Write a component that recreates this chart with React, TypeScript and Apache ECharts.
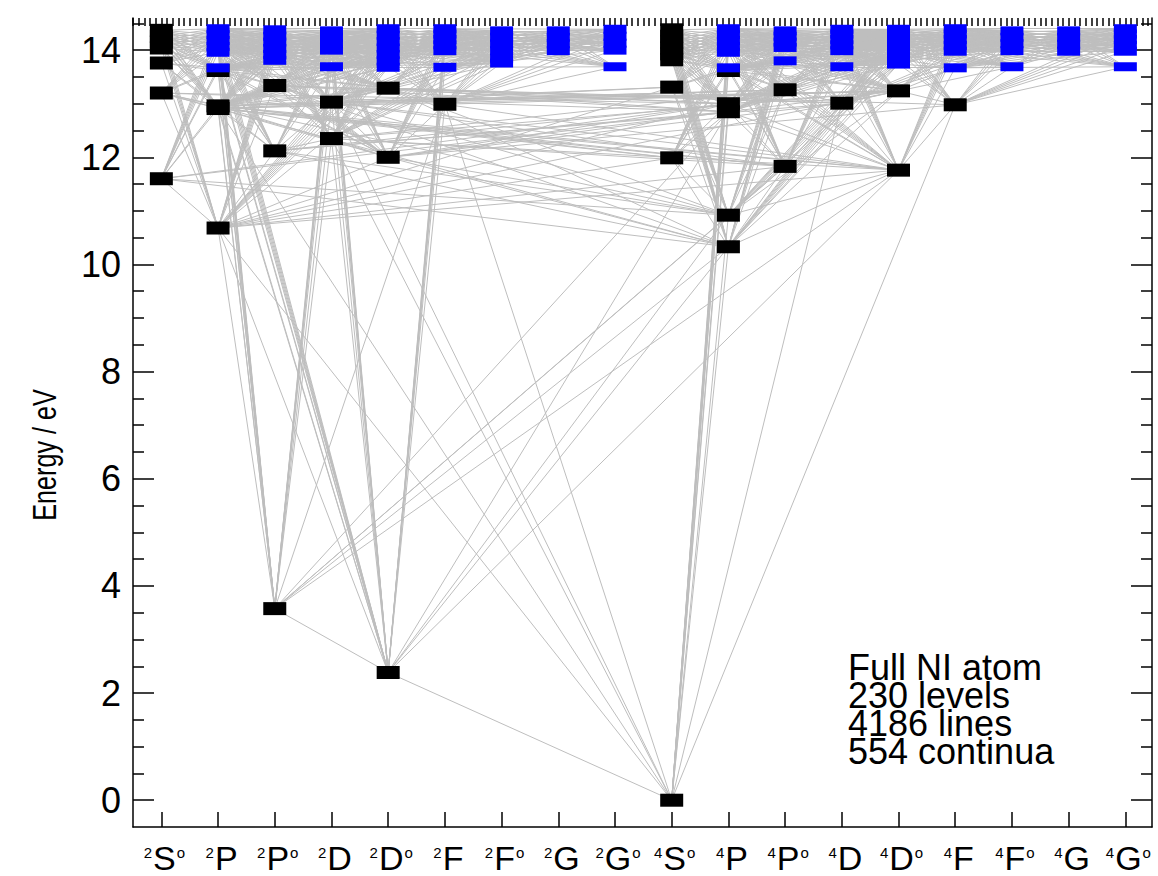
import { useEffect, useRef } from 'react';
import * as echarts from 'echarts';

const FONT = '"Liberation Sans", Arial, Helvetica, sans-serif';

// Spectroscopic terms along the x axis (° marks odd parity)
const TERMS = ['2S°', '2P', '2P°', '2D', '2D°', '2F', '2F°', '2G', '2G°',
  '4S°', '4P', '4P°', '4D', '4D°', '4F', '4F°', '4G', '4G°'];

// Individually treated levels (eV), one list per term
const LEVELS_BLACK: number[][] = [
  [11.60, 13.20, 13.76, 14.04, 14.15, 14.26, 14.37],             // 2S°
  [10.68, 12.91, 12.96, 13.62],                                   // 2P
  [3.576, 12.12, 13.34],                                          // 2P°
  [12.35, 13.03],                                                 // 2D
  [2.384, 12.00, 13.29],                                          // 2D°
  [12.99],                                                        // 2F
  [], [], [],                                                     // 2F°, 2G, 2G°
  [0, 11.99, 13.31, 13.82, 13.93, 14.04, 14.15, 14.26, 14.38],    // 4S°
  [10.33, 10.92, 12.85, 13.00, 13.62],                            // 4P
  [11.83, 13.26],                                                 // 4P°
  [13.01],                                                        // 4D
  [11.76, 13.24],                                                 // 4D°
  [12.98],                                                        // 4F
  [], [], [],                                                     // 4F°, 4G, 4G°
];

// Upper levels shown in blue (eV)
const LEVELS_BLUE: number[][] = [
  [],                                                             // 2S°
  [13.67, 13.96, 14.07, 14.18, 14.29, 14.40],                     // 2P
  [13.81, 13.92, 14.03, 14.15, 14.26, 14.38],                     // 2P°
  [13.69, 14.00, 14.12, 14.24, 14.36],                            // 2D
  [13.68, 13.80, 13.92, 14.04, 14.16, 14.28, 14.40],              // 2D°
  [13.68, 13.99, 14.10, 14.20, 14.30, 14.40],                     // 2F
  [13.76, 13.85, 13.99, 14.12, 14.24, 14.36],                     // 2F°
  [13.99, 14.12, 14.24, 14.36],                                   // 2G
  [13.69, 14.00, 14.13, 14.26, 14.39],                            // 2G°
  [],                                                             // 4S°
  [13.67, 13.96, 14.07, 14.18, 14.29, 14.40],                     // 4P
  [13.80, 14.05, 14.15, 14.26, 14.36],                            // 4P°
  [13.69, 13.99, 14.10, 14.20, 14.30, 14.39],                     // 4D
  [13.74, 13.83, 13.99, 14.10, 14.20, 14.30, 14.39],              // 4D°
  [13.67, 13.98, 14.09, 14.20, 14.30, 14.40],                     // 4F
  [13.69, 13.99, 14.12, 14.24, 14.36],                            // 4F°
  [13.98, 14.11, 14.24, 14.36],                                   // 4G
  [13.69, 13.98, 14.09, 14.20, 14.30, 14.40],                     // 4G°
];

// Additional transitions from the ground and metastable levels: [term, eV, term, eV]
const EXTRA_LINES: [string, number, string, number][] = [
  ['4S°', 0, '2D°', 2.384],
  ['2D°', 2.384, '2P°', 3.576],
  ['4S°', 0, '2P', 10.68],
  ['4S°', 0, '2P', 12.91],
  ['4S°', 0, '2D', 12.35],
  ['4S°', 0, '2D', 13.03],
  ['4S°', 0, '2F', 12.99],
  ['4S°', 0, '4D', 13.01],
  ['4S°', 0, '4F', 12.98],
  ['2D°', 2.384, '4P', 10.33],
  ['2D°', 2.384, '4P', 10.92],
  ['2D°', 2.384, '4P', 12.85],
  ['2D°', 2.384, '4D°', 11.76],
  ['2P°', 3.576, '4P', 10.33],
  ['2P°', 3.576, '4P', 10.92],
  ['2P°', 3.576, '4P', 12.85],
  ['2P°', 3.576, '4D°', 11.76],
  ['2P°', 3.576, '4P°', 11.83],
  ['2P°', 3.576, '2F', 12.99],
];

const ENERGY_TICKS = [0, 2, 4, 6, 8, 10, 12, 14];
const ENERGY_MINOR = [0.5, 1, 1.5, 2.5, 3, 3.5, 4.5, 5, 5.5, 6.5, 7, 7.5, 8.5, 9, 9.5,
  10.5, 11, 11.5, 12.5, 13, 13.5, 14.5];
const NOTE_LINES = ['Full NI atom', '230 levels', '4186 lines', '554 continua'];

type Level = { t: number; e: number; black: boolean };

const termInfo = TERMS.map((s) => ({
  mult: Number(s[0]),
  L: 'SPDFG'.indexOf(s[1]),
  odd: s.endsWith('°'),
}));

const allLevels: Level[] = [];
TERMS.forEach((_, t) => {
  LEVELS_BLACK[t].forEach((e) => allLevels.push({ t, e, black: true }));
  LEVELS_BLUE[t].forEach((e) => allLevels.push({ t, e, black: false }));
});

// Electric-dipole selection rules; spin-changing lines kept among the
// individually treated levels of the 10–13.4 eV band
function linked(a: Level, b: Level): boolean {
  const A = termInfo[a.t];
  const B = termInfo[b.t];
  if (A.odd === B.odd) return false;
  if (Math.abs(A.L - B.L) > 1) return false;
  if (A.L === 0 && B.L === 0) return false;
  if (A.mult === B.mult) return true;
  return a.black && b.black && a.e >= 10 && b.e >= 10 && a.e <= 13.4 && b.e <= 13.4;
}

function buildLines() {
  const out: { coords: number[][] }[] = [];
  for (let i = 0; i < allLevels.length; i++) {
    for (let j = i + 1; j < allLevels.length; j++) {
      const a = allLevels[i];
      const b = allLevels[j];
      if (linked(a, b)) out.push({ coords: [[a.t, a.e], [b.t, b.e]] });
    }
  }
  EXTRA_LINES.forEach(([ta, ea, tb, eb]) => {
    out.push({ coords: [[TERMS.indexOf(ta), ea], [TERMS.indexOf(tb), eb]] });
  });
  return out;
}

function boxes(src: number[][]) {
  const pts: number[][] = [];
  src.forEach((list, t) => list.forEach((e) => pts.push([t, e])));
  // lower boxes drawn last
  pts.sort((p, q) => q[1] - p[1]);
  return pts;
}

function termLabel(v: number) {
  const s = TERMS[Math.round(v)];
  if (!s) return '';
  return `{sup|${s[0]}}{main|${s[1]}}${s.endsWith('°') ? '{sup|o}' : ''}`;
}

const X_MIN = -0.5;
const X_MAX = 17.47;
const Y_MIN = -0.5;
const Y_MAX = 14.6;
const TERM_TICKS = TERMS.map((_, i) => i);
const TOP_TICKS = Array.from({ length: 180 }, (_, i) => Math.round((X_MIN + i * 0.1) * 10) / 10);

export default function App() {
  const ref = useRef<HTMLDivElement>(null);

  useEffect(() => {
    if (!ref.current) return;
    const chart = echarts.init(ref.current, undefined, { renderer: 'svg' });
    const axisLine = { show: true, onZero: false, lineStyle: { color: '#000', width: 1.5 } };
    const noLine = { show: false, onZero: false };
    const tickStyle = { color: '#000', width: 1.5 };
    const yBase = { type: 'value', min: Y_MIN, max: Y_MAX, splitLine: { show: false } } as any;

    chart.setOption({
      animation: false,
      backgroundColor: '#fff',
      grid: { left: 133, right: 6, top: 18, bottom: 49, containLabel: false, outerBoundsMode: 'none' },
      xAxis: [
        {
          type: 'value', min: X_MIN, max: X_MAX, position: 'bottom',
          splitLine: { show: false }, axisLine,
          axisTick: { show: true, inside: true, length: 15, customValues: TERM_TICKS, lineStyle: tickStyle },
          axisLabel: {
            show: true, customValues: TERM_TICKS, margin: 18, formatter: termLabel,
            padding: [0, 0, 0, 6],
            rich: {
              main: { fontSize: 34, fontFamily: FONT, color: '#000', lineHeight: 26 },
              sup: { fontSize: 15, fontFamily: FONT, color: '#000', lineHeight: 11, verticalAlign: 'top', padding: [0, 1, 0, 1] },
            },
          },
        },
        {
          type: 'value', min: X_MIN, max: X_MAX, position: 'top',
          splitLine: { show: false }, axisLine: noLine,
          axisTick: { show: true, inside: true, length: 8, customValues: TOP_TICKS, lineStyle: tickStyle },
          axisLabel: { show: false },
        },
      ],
      yAxis: [
        {
          ...yBase, position: 'left', axisLine,
          axisTick: { show: true, inside: true, length: 21, customValues: ENERGY_TICKS, lineStyle: tickStyle },
          axisLabel: { show: true, customValues: ENERGY_TICKS, fontSize: 36, fontFamily: FONT, color: '#000', margin: 12 },
        },
        {
          ...yBase, position: 'left', offset: 0, axisLine: noLine,
          axisTick: { show: true, inside: true, length: 11, customValues: ENERGY_MINOR, lineStyle: tickStyle },
          axisLabel: { show: false },
        },
        {
          ...yBase, position: 'right', offset: 0, axisLine,
          axisTick: { show: true, inside: true, length: 21, customValues: ENERGY_TICKS, lineStyle: tickStyle },
          axisLabel: { show: false },
        },
        {
          ...yBase, position: 'right', offset: 0, axisLine: noLine,
          axisTick: { show: true, inside: true, length: 11, customValues: ENERGY_MINOR, lineStyle: tickStyle },
          axisLabel: { show: false },
        },
      ],
      series: [
        {
          type: 'lines', coordinateSystem: 'cartesian2d', xAxisIndex: 0, yAxisIndex: 0,
          silent: true, polyline: false, z: 1, largeThreshold: 100000,
          lineStyle: { color: '#bebebe', width: 1, opacity: 1 },
          data: buildLines(),
        },
        {
          type: 'scatter', xAxisIndex: 0, yAxisIndex: 0, silent: true, z: 3,
          symbol: 'rect', symbolSize: [23, 13],
          itemStyle: { color: '#000', opacity: 1 },
          data: boxes(LEVELS_BLACK),
        },
        {
          type: 'scatter', xAxisIndex: 0, yAxisIndex: 0, silent: true, z: 4,
          symbol: 'rect', symbolSize: [23, 9],
          itemStyle: { color: '#0000ff', opacity: 1 },
          data: boxes(LEVELS_BLUE),
        },
      ],
      graphic: [
        {
          type: 'text', x: 44, y: 455, rotation: Math.PI / 2, scaleX: 0.74, z: 10,
          style: { text: 'Energy / eV', fontSize: 34, fontFamily: FONT, fill: '#000', align: 'center', verticalAlign: 'middle' },
        },
        {
          type: 'text', x: 848, y: 654, z: 10,
          style: {
            text: NOTE_LINES.join('\n'), fontSize: 36, fontFamily: FONT, fill: '#000',
            align: 'left', verticalAlign: 'top', lineHeight: 27.8,
          },
        },
      ],
    });
    return () => chart.dispose();
  }, []);

  return (
    <div
      ref={ref}
      style={{ position: 'fixed', left: 0, top: 0, width: 1158, height: 876, background: '#fff' }}
    />
  );
}
